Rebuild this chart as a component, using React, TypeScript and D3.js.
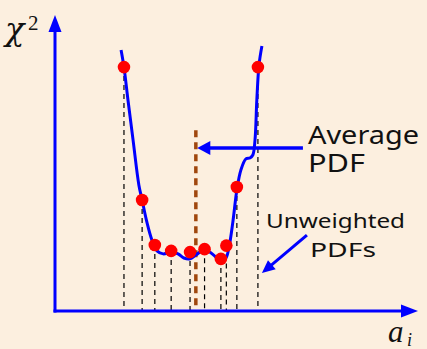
import React from 'react';
import * as d3 from 'd3';

// unweighted PDF fits (a_i, chi2) in arbitrary units
const pdfA = [1.9, 2.4, 2.75, 3.2, 3.72, 4.12, 4.57, 4.72, 5.01, 5.59];
const pdfChi2 = [8.24, 3.75, 2.23, 2.03, 1.99, 2.09, 1.76, 2.21, 4.19, 8.24];

// chi2 profile of the average PDF
const curveA = [1.82, 1.9, 2.01, 2.15, 2.31, 2.4, 2.53, 2.67, 2.81, 2.98, 3.2, 3.39, 3.55, 3.72, 3.88, 4.1, 4.3, 4.46, 4.6, 4.71, 4.79, 4.9, 5.01, 5.12, 5.26, 5.37, 5.45, 5.51, 5.56, 5.62, 5.7];
const curveChi2 = [8.82, 8.24, 7.13, 5.78, 4.26, 3.75, 3.01, 2.4, 2.03, 1.93, 1.99, 1.93, 1.79, 1.76, 1.89, 2.06, 1.96, 1.79, 1.69, 1.79, 2.13, 3.01, 4.09, 4.76, 5.14, 5.17, 5.27, 5.78, 7.13, 8.31, 8.95];

const averageA = 3.88;
const averageTop = 6.11;

const W = 427;
const H = 349;

export default function App() {
  const x = d3.scaleLinear().domain([0, 10]).range([55, 418]);
  const y = d3.scaleLinear().domain([0, 10]).range([311, 15]);

  const pts = curveA.map((a, i) => [a, curveChi2[i]] as [number, number]);
  const line = d3.line<[number, number]>()
    .x(d => x(d[0]))
    .y(d => y(d[1]))
    .curve(d3.curveCatmullRom.alpha(0.5));

  const blue = '#0000ff';
  const x0 = x(0), y0 = y(0);
  const yTop = y(10), xEnd = x(10);

  // annotation arrow positions
  const avgY = y(5.51);
  const avgTip = x(3.92);
  const avgTail = x(6.83);
  const uwTail: [number, number] = [x(6.94), y(2.56)];
  const uwTip: [number, number] = [x(5.7), y(1.28)];
  const ang = Math.atan2(uwTip[1] - uwTail[1], uwTip[0] - uwTail[0]);
  const headLen = 13, headW = 6;
  const uwHead = [
    uwTip,
    [uwTip[0] - headLen * Math.cos(ang) + headW * Math.sin(ang), uwTip[1] - headLen * Math.sin(ang) - headW * Math.cos(ang)],
    [uwTip[0] - headLen * Math.cos(ang) - headW * Math.sin(ang), uwTip[1] - headLen * Math.sin(ang) + headW * Math.cos(ang)],
  ];

  const sans = '"Noto Sans", "DejaVu Sans", sans-serif';

  return (
    <svg width={W} height={H} style={{ position: 'absolute', left: 0, top: 0, background: '#fcefdf' }}>
      <rect width={W} height={H} fill="#fcefdf" />

      {/* dashed drop lines */}
      {pdfA.map((a, i) => (
        <line key={'d' + i} x1={x(a)} x2={x(a)} y1={y(pdfChi2[i])} y2={y0}
          stroke="#000" strokeWidth={1.2} strokeDasharray="5,4" />
      ))}

      {/* average PDF line */}
      <line x1={x(averageA)} x2={x(averageA)} y1={y(averageTop)} y2={y0}
        stroke="#a0470e" strokeWidth={3.5} strokeDasharray="7,5" />

      {/* axes */}
      <line x1={x0} x2={x0} y1={y0 + 1.5} y2={yTop + 14} stroke={blue} strokeWidth={3} />
      <polygon points={`${x0},${yTop} ${x0 - 6.5},${yTop + 17} ${x0 + 6.5},${yTop + 17}`} fill={blue} />
      <line x1={x0 - 1.5} x2={xEnd - 14} y1={y0} y2={y0} stroke={blue} strokeWidth={3} />
      <polygon points={`${xEnd},${y0} ${xEnd - 17},${y0 - 6.5} ${xEnd - 17},${y0 + 6.5}`} fill={blue} />

      {/* chi2 curve */}
      <path d={line(pts) ?? ''} fill="none" stroke={blue} strokeWidth={3} />

      {/* points */}
      {pdfA.map((a, i) => (
        <circle key={'p' + i} cx={x(a)} cy={y(pdfChi2[i])} r={6.3} fill="#ff0000" />
      ))}

      {/* Average PDF arrow */}
      <line x1={avgTail} x2={avgTip + 10} y1={avgY} y2={avgY} stroke={blue} strokeWidth={3.5} />
      <polygon points={`${avgTip},${avgY} ${avgTip + 13},${avgY - 7} ${avgTip + 13},${avgY + 7}`} fill={blue} />
      <text x={308} y={144} fontFamily={sans} fontSize={25} textLength={111} lengthAdjust="spacingAndGlyphs" fill="#111">Average</text>
      <text x={308} y={172} fontFamily={sans} fontSize={25} textLength={57} lengthAdjust="spacingAndGlyphs" fill="#111">PDF</text>

      {/* Unweighted PDFs arrow */}
      <line x1={uwTail[0]} y1={uwTail[1]} x2={uwTip[0] - 10 * Math.cos(ang)} y2={uwTip[1] - 10 * Math.sin(ang)} stroke={blue} strokeWidth={3} />
      <polygon points={uwHead.map(p => p.join(',')).join(' ')} fill={blue} />
      <text x={266} y={228} fontFamily={sans} fontSize={20} textLength={139} lengthAdjust="spacingAndGlyphs" fill="#111">Unweighted</text>
      <text x={310} y={257} fontFamily={sans} fontSize={20} textLength={66} lengthAdjust="spacingAndGlyphs" fill="#111">PDFs</text>

      {/* axis labels */}
      <text x={5} y={40} fontFamily='"DejaVu Serif", serif' fontStyle="italic" fontSize={32} fill="#111">χ</text>
      <text x={28} y={30} fontFamily='"Liberation Serif", serif' fontSize={21} fill="#111">2</text>
      <text x={388} y={342} fontFamily='"Liberation Serif", serif' fontStyle="italic" fontSize={31} fill="#111">a</text>
      <text x={407} y={346} fontFamily='"Liberation Serif", serif' fontStyle="italic" fontSize={18} fill="#111">i</text>
    </svg>
  );
}
